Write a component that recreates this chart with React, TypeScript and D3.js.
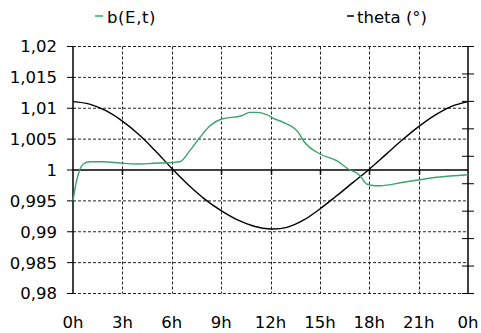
import React from 'react';
import * as d3 from 'd3';

// b(E,t) samples (hour, value)
const bHours = [0, 0.22, 0.43, 0.63, 1.03, 1.84, 2.86, 3.87, 4.88, 6.0, 6.5, 7.1, 7.72, 8.32, 9.03, 10.25, 10.75, 11.16, 11.77, 12.27, 12.78, 13.69, 14.0, 15.01, 16.02, 16.73, 17.44, 17.84, 18.35, 18.65, 20.07, 21.08, 22.1, 24];
const bValues = [0.99503, 0.99827, 1.00016, 1.00097, 1.00134, 1.00134, 1.00113, 1.00097, 1.00109, 1.00121, 1.00134, 1.00313, 1.0053, 1.00717, 1.00826, 1.00879, 1.00934, 1.00934, 1.00896, 1.00826, 1.00772, 1.0061, 1.00474, 1.00259, 1.00151, 1.00016, 0.99908, 0.99773, 0.99746, 0.99746, 0.99801, 0.99843, 0.99882, 0.99924];

// theta (deg) hourly, secondary axis 0..90
const thetaHours = d3.range(0, 25);
const thetaValues = [69.9, 69.0, 66.6, 62.8, 57.9, 52.0, 45.6, 39.6, 34.4, 30.2, 26.8, 24.5, 23.5, 24.1, 26.7, 30.8, 35.5, 40.4, 45.3, 50.6, 55.9, 60.8, 65.0, 68.2, 69.9];

const yTicks = [0.98, 0.985, 0.99, 0.995, 1, 1.005, 1.01, 1.015, 1.02];
const xTicks = [0, 3, 6, 9, 12, 15, 18, 21, 24];
const xTickLabels = ['0h', '3h', '6h', '9h', '12h', '15h', '18h', '21h', '0h'];
const y2Ticks = d3.range(0, 91, 10);

const seriesNames = ['b(E,t)', 'theta (°)'];
const green = '#3aa46c';

const width = 481;
const height = 333;
const font = 'DejaVu Sans, Verdana, sans-serif';
const fontSize = 16.5;

const App = () => {
    const x = d3.scaleLinear().domain([0, 24]).range([73, 468]);
    const y = d3.scaleLinear().domain([0.98, 1.02]).range([293.5, 46.5]);
    const y2 = d3.scaleLinear().domain([0, 90]).range([293.5, 46.5]);

    const bLine = d3.line<number>()
        .x((_, i) => x(bHours[i]))
        .y((d) => y(d))
        .curve(d3.curveMonotoneX);

    const thetaLine = d3.line<number>()
        .x((_, i) => x(thetaHours[i]))
        .y((d) => y2(d))
        .curve(d3.curveCatmullRom);

    const fmt = (v: number) => String(+v.toFixed(3)).replace('.', ',');
    const [x0, x1] = x.range();

    return (
        <svg width={width} height={height} style={{ position: 'absolute', left: 0, top: 0 }} fontFamily={font}>
            <rect width={width} height={height} fill="#fff" />

            {/* horizontal grid */}
            {yTicks.filter((t) => t !== 1).map((t) => (
                <line key={'hg' + t} x1={x0} x2={x1} y1={y(t)} y2={y(t)} stroke="#222" strokeWidth={1} strokeDasharray="3,2" />
            ))}
            {/* vertical grid */}
            {xTicks.slice(1, -1).map((t) => (
                <line key={'vg' + t} x1={Math.round(x(t)) + 0.5} x2={Math.round(x(t)) + 0.5} y1={y(1.02)} y2={y(0.98)} stroke="#222" strokeWidth={1} strokeDasharray="3,2" />
            ))}

            {/* left axis */}
            <line x1={x0} x2={x0} y1={y(1.02)} y2={y(0.98)} stroke="#000" strokeWidth={1.5} />
            {yTicks.map((t) => (
                <g key={'yt' + t}>
                    <line x1={x0 - 6} x2={x0} y1={y(t)} y2={y(t)} stroke="#000" strokeWidth={1} />
                    <text x={57} y={y(t)} dy="0.36em" textAnchor="end" fontSize={fontSize} fill="#000">{fmt(t)}</text>
                </g>
            ))}

            {/* right axis */}
            <line x1={x1} x2={x1} y1={y2(90)} y2={y2(0)} stroke="#000" strokeWidth={1.5} />
            {y2Ticks.map((t) => (
                <line key={'y2t' + t} x1={x1 - 6} x2={x1 + 6} y1={y2(t)} y2={y2(t)} stroke="#000" strokeWidth={1} />
            ))}

            {/* x axis crossing at 1 */}
            <line x1={x0} x2={x1} y1={y(1)} y2={y(1)} stroke="#000" strokeWidth={1.5} />
            {xTicks.slice(1, -1).map((t) => (
                <line key={'xt' + t} x1={Math.round(x(t)) + 0.5} x2={Math.round(x(t)) + 0.5} y1={y(1)} y2={y(1) + 5} stroke="#000" strokeWidth={1.5} />
            ))}
            {xTicks.map((t, i) => (
                <text key={'xl' + i} x={x(t)} y={322} dy="0.36em" textAnchor="middle" fontSize={fontSize} fill="#000">{xTickLabels[i]}</text>
            ))}

            {/* series */}
            <path d={thetaLine(thetaValues) ?? ''} fill="none" stroke="#000" strokeWidth={1.4} />
            <path d={bLine(bValues) ?? ''} fill="none" stroke={green} strokeWidth={1.4} />

            {/* legend */}
            <line x1={95} x2={103} y1={16} y2={16} stroke={green} strokeWidth={1.5} />
            <text x={107} y={17} dy="0.36em" fontSize={fontSize} fill="#000" letterSpacing={0.6}>{seriesNames[0]}</text>
            <line x1={347} x2={354} y1={16} y2={16} stroke="#000" strokeWidth={1.5} />
            <text x={357} y={17} dy="0.36em" fontSize={fontSize} fill="#000">{seriesNames[1]}</text>
        </svg>
    );
};

export default App;
